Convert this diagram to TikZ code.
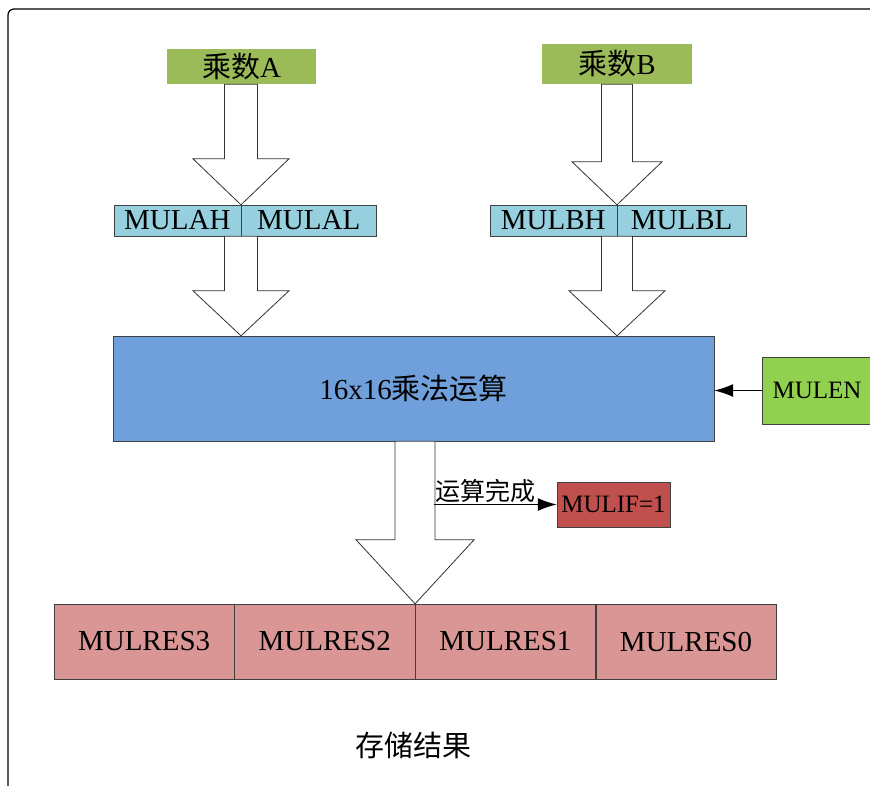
\documentclass[tikz,border=0pt]{standalone}
\usepackage{fontspec}
\setmainfont{Liberation Serif}
\newfontfamily\cjk{Noto Sans CJK SC}
\usepackage{xcolor}
\usepackage{tikz}
\usetikzlibrary{positioning, calc, arrows.meta}
\definecolor{opgreen}{HTML}{9BBB59}
\definecolor{regblue}{HTML}{96CFDD}
\definecolor{calcblue}{HTML}{70A0DB}
\definecolor{engreen}{HTML}{92D050}
\definecolor{ifred}{HTML}{C0504D}
\definecolor{respink}{HTML}{D99694}
\tikzstyle{operand} = [rectangle, minimum width=149pt, minimum height=35pt, inner sep=0pt, text centered, fill=opgreen, font=\fontsize{29}{30}\selectfont]
\tikzstyle{register} = [rectangle, minimum height=31pt, inner sep=0pt, text centered, draw=black!75, fill=regblue, font=\fontsize{29}{30}\selectfont]
\tikzstyle{unit} = [rectangle, minimum width=601pt, minimum height=105pt, text centered, draw=black!75, fill=calcblue, font=\fontsize{29}{30}\selectfont]
\tikzstyle{flag} = [rectangle, inner sep=0pt, text centered, draw=black!75, font=\fontsize{25}{26}\selectfont]
\tikzstyle{result} = [rectangle, minimum width=180.25pt, minimum height=75pt, inner sep=0pt, text centered, draw=black!75, fill=respink, font=\fontsize{29}{30}\selectfont]
\tikzstyle{fat} = [draw=black!80, fill=white, line width=0.8pt, line join=miter]
\tikzstyle{arrow} = [line width=1.3pt, -{Latex[length=19pt, width=13pt]}]
% hollow block arrow: start, tip, half shaft, half head, head length
\newcommand{\fatarrow}[5]{%
  \draw [fat] let \p1=(#1), \p2=(#2) in
    (\x2-#3pt,\y1) -- (\x2-#3pt,\y2+#5pt) -- (\x2-#4pt,\y2+#5pt) -- (\x2,\y2)
    -- (\x2+#4pt,\y2+#5pt) -- (\x2+#3pt,\y2+#5pt) -- (\x2+#3pt,\y1) -- cycle;}

\begin{document}
\begin{tikzpicture}[x=1pt, y=-1pt]
    \useasboundingbox (0,0) rectangle (870,785);
    \draw [line width=1.2pt, rounded corners=6pt] (8,800) -- (8,9) -- (890,9);

    \node (numA) [operand] at (241.5,66.5) {{\cjk 乘数}A};
    \node (numB) [operand, minimum width=150pt, minimum height=40pt] at (617,64) {{\cjk 乘数}B};
    \node (mulah) [register, minimum width=127pt, anchor=east] at (241,220.5) {MULAH};
    \node (mulal) [register, minimum width=135pt, right=0pt of mulah] {MULAL};
    \node (mulbh) [register, minimum width=127pt, anchor=east] at (617,220.5) {MULBH};
    \node (mulbl) [register, minimum width=129pt, right=0pt of mulbh] {MULBL};
    \node (mult) [unit] at (413.5,388.5) {16x16{\cjk 乘法运算}};
    \node (mulen) [flag, fill=engreen, minimum width=110pt, minimum height=67pt] at (817,390.5) {MULEN};
    \node (mulif) [flag, fill=ifred, minimum width=113pt, minimum height=45pt] at (613.5,504.5) {MULIF=1};
    \node (res3) [result] at (144.1,641.5) {MULRES3};
    \node (res2) [result, right=0pt of res3] {MULRES2};
    \node (res1) [result, right=0pt of res2] {MULRES1};
    \node (res0) [result, right=0pt of res1] {MULRES0};
    \node (store) [font=\fontsize{29}{30}\selectfont] at (413,745) {\cjk 存储结果};

    \fatarrow{numA.south}{mulah.north east}{16.5}{48}{46}
    \fatarrow{numB.south}{mulbh.north east}{15.5}{45}{43}
    \fatarrow{mulah.south east}{mulah.east |- mult.north}{16.5}{48}{45}
    \fatarrow{mulbh.south east}{mulbh.east |- mult.north}{15.5}{48}{45}
    \fatarrow{mult.south}{res1.north west}{20}{59}{64}

    \draw [arrow] (mulen.west) -- (mult.east |- mulen.west);
    \coordinate (shaftR) at ($(mult.south)+(20,0)$);
    \coordinate (done) at (shaftR |- mulif.west);
    \node (donelbl) [anchor=south west, inner sep=1.5pt, font=\fontsize{25}{26}\selectfont] at (done) {\cjk 运算完成};
    \draw [arrow] (done) -- (mulif.west);
\end{tikzpicture}
\end{document}
